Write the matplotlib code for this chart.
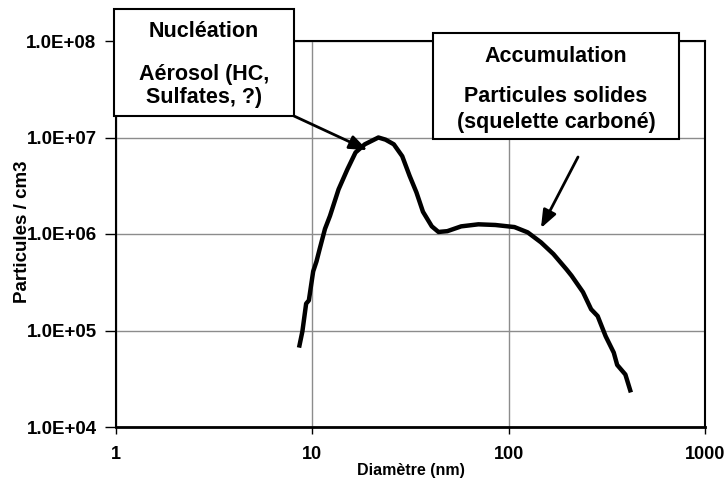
import numpy as np
import matplotlib
matplotlib.use("Agg")
import matplotlib.pyplot as plt
from matplotlib.patches import Rectangle

plt.rcParams['font.family'] = ['Liberation Sans', 'DejaVu Sans']
plt.rcParams['font.weight'] = 'bold'

# ---- données ----
diametre = [8.6, 8.9, 9.3, 9.6, 10.1, 10.5, 10.9, 11.6, 12.3, 13.6, 15.1, 16.6,
            18.5, 21.7, 23.6, 26.0, 28.7, 31.3, 33.9, 36.6, 40.6, 43.9, 48.7,
            57.3, 70.1, 85.5, 107, 125, 146, 169, 197, 209, 239, 263, 284, 312,
            343, 357, 393, 416]
particules = [7.0e4, 9.8e4, 1.9e5, 2.05e5, 4.1e5, 5.2e5, 7.0e5, 1.13e6, 1.54e6,
              2.9e6, 4.7e6, 7.0e6, 8.5e6, 1.0e7, 9.5e6, 8.5e6, 6.4e6, 4.0e6,
              2.7e6, 1.7e6, 1.2e6, 1.05e6, 1.07e6, 1.2e6, 1.26e6, 1.24e6,
              1.18e6, 1.04e6, 8.2e5, 6.2e5, 4.3e5, 3.7e5, 2.5e5, 1.66e5,
              1.41e5, 8.7e4, 5.9e4, 4.4e4, 3.5e4, 2.4e4]

xticks = [1, 10, 100, 1000]
xlabels = ["1", "10", "100", "1000"]
yticks = [1e4, 1e5, 1e6, 1e7, 1e8]
ylabels = ["1.0E+04", "1.0E+05", "1.0E+06", "1.0E+07", "1.0E+08"]

# pointes des flèches (données)
pointe_nucl = (19.1, 7.4e6)
pointe_accu = (146, 1.15e6)

# ---- figure ----
fig = plt.figure(figsize=(7.25, 4.84), dpi=100)
ax = fig.add_axes([116/725, 1-427/484, 589/725, 386/484])

ax.plot(diametre, particules, color='black', lw=3.2, solid_joinstyle='round', zorder=3)

ax.set_xscale('log')
ax.set_yscale('log')
ax.set_xlim(1, 1000)
ax.set_ylim(1e4, 1e8)
ax.set_xticks(xticks)
ax.set_xticklabels(xlabels)
ax.set_yticks(yticks)
ax.set_yticklabels(ylabels)
ax.minorticks_off()
ax.grid(True, color='#8c8c8c', lw=1)
ax.tick_params(axis='x', direction='out', length=5, width=1, pad=9, labelsize=13)
ax.tick_params(axis='y', direction='out', length=8, width=1, pad=6, labelsize=13.5)
for s in ax.spines.values():
    s.set_linewidth(1.5)
ax.spines['bottom'].set_linewidth(2)

ax.set_xlabel("Diamètre (nm)", fontsize=11.5, fontweight='bold', labelpad=0)
ax.set_ylabel("Particules / cm3", fontsize=13.5, fontweight='bold')
ax.yaxis.set_label_coords(-0.145, 0.505)

# ---- encadrés ----
box1 = Rectangle((114/725, 1-116/484), 180/725, 107/484, transform=fig.transFigure,
                 facecolor='white', edgecolor='black', lw=1.5, zorder=10)
box2 = Rectangle((433/725, 1-139/484), 246/725, 106/484, transform=fig.transFigure,
                 facecolor='white', edgecolor='black', lw=1.5, zorder=10)
fig.add_artist(box1)
fig.add_artist(box2)

kw = dict(ha='center', va='baseline', fontsize=15.5, fontweight='bold', zorder=11)
fig.text(204/725, 1-37/484, "Nucléation", **kw)
fig.text(204/725, 1-80/484, "Aérosol (HC,", **kw)
fig.text(204/725, 1-103/484, "Sulfates, ?)", **kw)
fig.text(556/725, 1-62.5/484, "Accumulation", **kw)
fig.text(556/725, 1-101.5/484, "Particules solides", **kw)
fig.text(556/725, 1-128/484, "(squelette carboné)", **kw)

fl = dict(arrowstyle='-|>,head_length=0.9,head_width=0.35', color='black', lw=2,
          shrinkA=0, shrinkB=0, mutation_scale=12)
ax.annotate("", xy=pointe_nucl, xycoords='data',
            xytext=(294/725, 1-116/484), textcoords='figure fraction',
            arrowprops=fl, zorder=5, annotation_clip=False)
ax.annotate("", xy=pointe_accu, xycoords='data',
            xytext=(578/725, 1-157/484), textcoords='figure fraction',
            arrowprops=fl, zorder=5, annotation_clip=False)

plt.savefig("out.png", dpi=100)
